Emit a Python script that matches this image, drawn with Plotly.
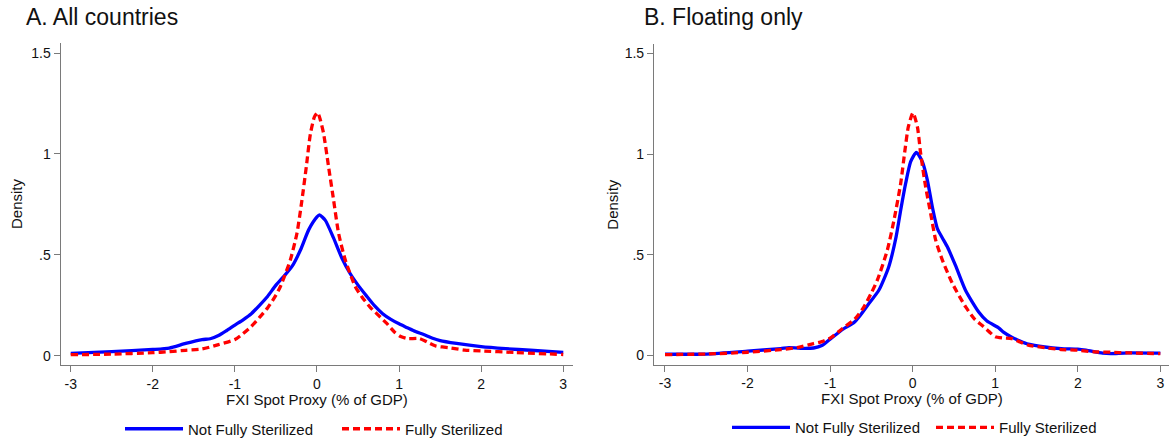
import plotly.graph_objects as go

# ---------------- data ----------------
A_not_x = [-3.0, -2.5, -2.0, -1.8, -1.6, -1.4, -1.3, -1.2, -1.1, -1.0, -0.9, -0.8, -0.7, -0.6,
           -0.5, -0.4, -0.3, -0.2, -0.1, 0.0, 0.03, 0.1, 0.2, 0.3, 0.4, 0.5, 0.6, 0.7, 0.8, 0.9,
           1.0, 1.1, 1.2, 1.3, 1.4, 1.5, 1.7, 2.0, 2.3, 2.6, 3.0]
A_not_y = [0.012, 0.02, 0.031, 0.038, 0.061, 0.08, 0.084, 0.1, 0.125, 0.152, 0.178, 0.208, 0.25, 0.295,
           0.35, 0.395, 0.445, 0.525, 0.625, 0.688, 0.698, 0.672, 0.585, 0.487, 0.41, 0.35, 0.298, 0.248, 0.208, 0.18,
           0.158, 0.139, 0.12, 0.105, 0.088, 0.075, 0.061, 0.045, 0.035, 0.027, 0.017]

A_full_x = [-3.0, -2.5, -2.0, -1.8, -1.6, -1.4, -1.2, -1.0, -0.9, -0.8, -0.7, -0.6, -0.5, -0.447,
            -0.4, -0.325, -0.244, -0.183, -0.13, -0.08, -0.03, 0.008, 0.04, 0.081, 0.141, 0.202, 0.263,
            0.345, 0.467, 0.55, 0.649, 0.75, 0.85, 0.95, 1.02, 1.1, 1.25, 1.35, 1.45, 1.6, 1.8, 2.0,
            2.4, 3.0]
A_full_y = [0.005, 0.008, 0.015, 0.02, 0.027, 0.033, 0.055, 0.08, 0.11, 0.145, 0.19, 0.238, 0.3, 0.342,
            0.39, 0.474, 0.607, 0.772, 0.937, 1.1, 1.185, 1.205, 1.17, 1.1, 0.937, 0.772, 0.607,
            0.474, 0.342, 0.29, 0.24, 0.2, 0.16, 0.115, 0.095, 0.085, 0.085, 0.066, 0.048, 0.04, 0.028, 0.024,
            0.016, 0.006]

B_not_x = [-3.0, -2.5, -2.0, -1.6, -1.5, -1.3, -1.2, -1.1, -1.0, -0.9, -0.85, -0.75, -0.7, -0.65,
           -0.53, -0.41, -0.29, -0.2, -0.145, -0.085, -0.024, 0.045, 0.117, 0.178, 0.238, 0.299,
           0.36, 0.42, 0.52, 0.64, 0.8, 0.9, 1.045, 1.1, 1.2, 1.3, 1.4, 1.6, 1.8, 2.0, 2.1,
           2.3, 2.4, 2.6, 3.0]
B_not_y = [0.005, 0.006, 0.02, 0.033, 0.038, 0.034, 0.036, 0.048, 0.08, 0.112, 0.128, 0.152, 0.166, 0.19,
           0.257, 0.323, 0.439, 0.59, 0.721, 0.854, 0.962, 1.008, 0.962, 0.871, 0.738, 0.63,
           0.583, 0.539, 0.445, 0.323, 0.215, 0.17, 0.135, 0.115, 0.09, 0.071, 0.055, 0.041, 0.033, 0.03, 0.025,
           0.01, 0.008, 0.012, 0.011]

B_full_x = [-3.0, -2.5, -2.0, -1.6, -1.4, -1.2, -1.1, -1.0, -0.9, -0.85, -0.7, -0.59, -0.5, -0.428,
            -0.307, -0.226, -0.145, -0.093, -0.052, 0.004, 0.057, 0.097, 0.157, 0.218, 0.279, 0.36,
            0.481, 0.642, 0.75, 0.85, 0.95, 1.0, 1.1, 1.2, 1.3, 1.4, 1.6, 1.8, 2.0, 2.2, 2.4, 2.6, 3.0]
B_full_y = [0.003, 0.006, 0.015, 0.028, 0.038, 0.058, 0.068, 0.085, 0.116, 0.133, 0.18, 0.24, 0.31, 0.373,
            0.522, 0.672, 0.854, 1.02, 1.136, 1.205, 1.136, 1.003, 0.837, 0.705, 0.572, 0.473,
            0.357, 0.24, 0.18, 0.145, 0.108, 0.092, 0.086, 0.083, 0.066, 0.05, 0.038, 0.028, 0.025, 0.017, 0.015, 0.012, 0.008]

x_ticks = [-3, -2, -1, 0, 1, 2, 3]
x_tick_text = ["-3", "-2", "-1", "0", "1", "2", "3"]
y_ticks = [0, 0.5, 1, 1.5]
y_tick_text = ["0", ".5", "1", "1.5"]

panel_titles = ["A. All countries", "B. Floating only"]
series_names = ["Not Fully Sterilized", "Fully Sterilized"]
x_title = "FXI Spot Proxy (% of GDP)"
y_title = "Density"

# ---------------- figure ----------------
W, H = 1169, 441
FONT = "Liberation Sans, Arial, sans-serif"
BLUE = "#0000FF"
RED = "#FF0000"
AXC = "#7a7a7a"
TXT = "#111111"

fig = go.Figure()
fig.add_trace(go.Scatter(x=A_not_x, y=A_not_y, mode="lines", name=series_names[0],
                         line=dict(color=BLUE, width=3.3, shape="spline", smoothing=0.6),
                         xaxis="x", yaxis="y", legend="legend"))
fig.add_trace(go.Scatter(x=A_full_x, y=A_full_y, mode="lines", name=series_names[1],
                         line=dict(color=RED, width=3.3, dash="7px,4px", shape="spline", smoothing=0.6),
                         xaxis="x", yaxis="y", legend="legend"))
fig.add_trace(go.Scatter(x=B_not_x, y=B_not_y, mode="lines", name=series_names[0],
                         line=dict(color=BLUE, width=3.3, shape="spline", smoothing=0.6),
                         xaxis="x2", yaxis="y2", legend="legend2"))
fig.add_trace(go.Scatter(x=B_full_x, y=B_full_y, mode="lines", name=series_names[1],
                         line=dict(color=RED, width=3.3, dash="7px,4px", shape="spline", smoothing=0.6),
                         xaxis="x2", yaxis="y2", legend="legend2"))

def px_x(p):
    return p / W

def px_y(p):
    return 1 - p / H

axis_common = dict(showgrid=False, zeroline=False, showline=True, linecolor=AXC, linewidth=1.2,
                   ticks="outside", ticklen=6, tickcolor=AXC, tickwidth=1.2, automargin=False,
                   tickfont=dict(family=FONT, size=14, color=TXT), fixedrange=True)

legend_common = dict(orientation="h", xanchor="left", yanchor="middle",
                     font=dict(family=FONT, size=15, color=TXT), itemwidth=58,
                     entrywidthmode="pixels", bgcolor="rgba(0,0,0,0)", borderwidth=0)

fig.update_layout(
    width=W, height=H,
    margin=dict(l=0, r=0, t=0, b=0, autoexpand=False),
    paper_bgcolor="white", plot_bgcolor="white",
    font=dict(family=FONT, color="#000000"),
    xaxis=dict(domain=[px_x(60.7), px_x(572.7)], range=[-3.122, 3.115], anchor="y",
               tickvals=x_ticks, ticktext=x_tick_text, **axis_common),
    yaxis=dict(domain=[px_y(365), px_y(43)], range=[-0.046, 1.55], anchor="x",
               tickvals=y_ticks, ticktext=y_tick_text, **axis_common),
    xaxis2=dict(domain=[px_x(654), 1.0], range=[-3.133, 3.105], anchor="y2",
                tickvals=x_ticks, ticktext=x_tick_text, **axis_common),
    yaxis2=dict(domain=[px_y(364.5), px_y(44)], range=[-0.046, 1.547], anchor="x2",
                tickvals=y_ticks, ticktext=y_tick_text, **axis_common),
    legend=dict(x=px_x(120), y=px_y(429), entrywidth=144, **legend_common),
    legend2=dict(x=px_x(727), y=px_y(427.7), entrywidth=131, **legend_common),
    showlegend=True,
)

ann = []
ann.append(dict(text=panel_titles[0], x=px_x(24), y=px_y(17.5), xref="paper", yref="paper",
                xanchor="left", yanchor="middle", showarrow=False,
                font=dict(family=FONT, size=23, color=TXT)))
ann.append(dict(text=panel_titles[1], x=px_x(642), y=px_y(17.5), xref="paper", yref="paper",
                xanchor="left", yanchor="middle", showarrow=False,
                font=dict(family=FONT, size=23, color=TXT)))
ann.append(dict(text=x_title, x=px_x(316.7), y=px_y(399.5), xref="paper", yref="paper",
                xanchor="center", yanchor="middle", showarrow=False,
                font=dict(family=FONT, size=15, color=TXT)))
ann.append(dict(text=x_title, x=px_x(911.5), y=px_y(398.5), xref="paper", yref="paper",
                xanchor="center", yanchor="middle", showarrow=False,
                font=dict(family=FONT, size=15, color=TXT)))
ann.append(dict(text=y_title, x=px_x(16), y=px_y(204), xref="paper", yref="paper",
                xanchor="center", yanchor="middle", showarrow=False, textangle=-90,
                font=dict(family=FONT, size=15, color=TXT)))
ann.append(dict(text=y_title, x=px_x(611.7), y=px_y(204), xref="paper", yref="paper",
                xanchor="center", yanchor="middle", showarrow=False, textangle=-90,
                font=dict(family=FONT, size=15, color=TXT)))
fig.update_layout(annotations=ann)

fig.write_html("out.html", config={"displayModeBar": False},
               post_script="document.body.style.margin='0';document.body.style.overflow='hidden';")
